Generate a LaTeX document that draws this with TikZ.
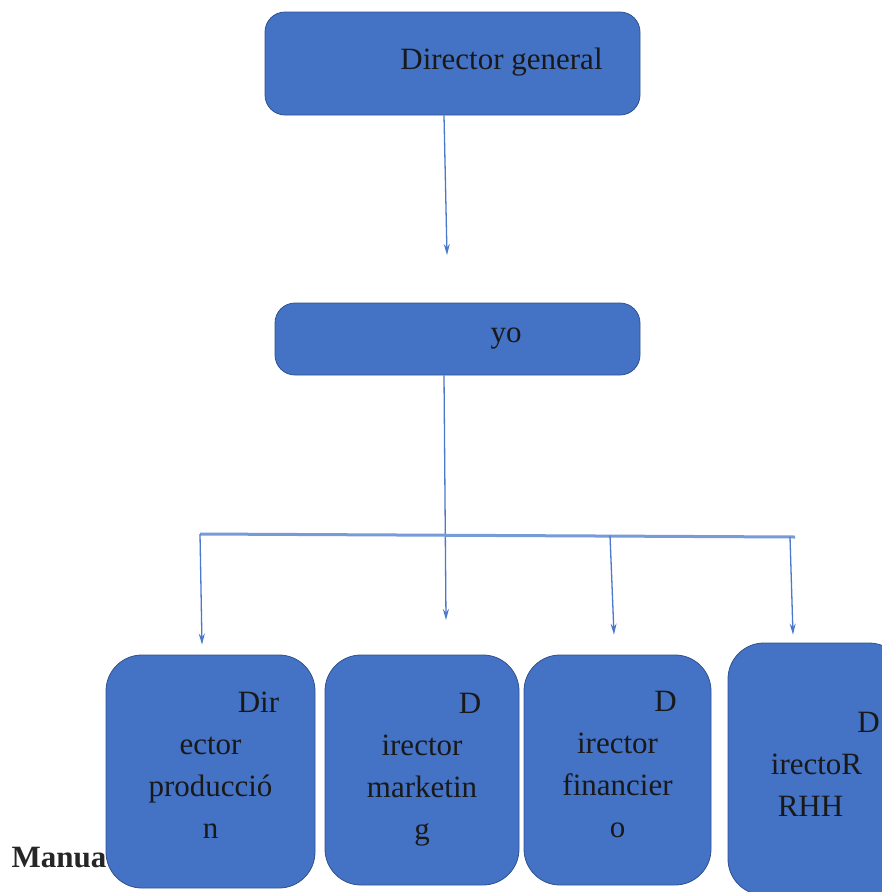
\documentclass[tikz,border=0pt]{standalone}
\usepackage{fontspec}
\setmainfont{Liberation Serif}
\usetikzlibrary{arrows.meta}
\definecolor{boxblue}{HTML}{4472C4}
\definecolor{boxline}{HTML}{2F528F}
\definecolor{lineblue}{HTML}{4A78CB}

\begin{document}
\begin{tikzpicture}[x=1pt, y=-1pt,
    box/.style={draw=boxline, line width=0.8pt, fill=boxblue, rounded corners=20pt,
        inner sep=0pt, align=center, text=black!90,
        font=\fontsize{31}{42}\selectfont},
    lowbox/.style={box, rounded corners=36pt},
    arr/.style={draw=lineblue, line width=1.3pt, -{Stealth[length=11pt, width=6pt]}},
    bar/.style={draw=lineblue!75, line width=3pt}
    ]
    \useasboundingbox (0,0) rectangle (882,892);
    \clip (0,0) rectangle (882,892);

    \node[box, minimum width=375pt, minimum height=103pt] (dg) at (452.5,63.5)
        {\raisebox{9pt}{\hspace*{98pt}Director general}};
    \node[box, minimum width=365pt, minimum height=72pt] (yo) at (457.5,339)
        {\raisebox{6pt}{\hspace*{97pt}yo}};

    \node[anchor=west, font=\bfseries\fontsize{31}{36}\selectfont, text=black!85] (man) at (8,858) {Manua};

    \node[lowbox, minimum width=209pt, minimum height=233pt, text depth=12pt] (prod) at (210.5,771.5)
        {\hspace*{96pt}Dir\\ector\\producció\\n};
    \node[lowbox, minimum width=194pt, minimum height=230pt] (mkt) at (422,770)
        {\hspace*{96pt}D\\irector\\marketin\\g};
    \node[lowbox, minimum width=187pt, minimum height=230pt, text depth=12pt] (fin) at (617.5,770)
        {\hspace*{96pt}D\\irector\\financier\\o};
    \node[lowbox, minimum width=177pt, minimum height=252pt, text depth=10pt] (rrhh) at (816.5,769)
        {\hspace*{104pt}D\\irectoR\hspace*{12pt}\\RHH\hspace*{12pt}};

    \coordinate (t1) at (447,255);
    \coordinate (t2) at (446,620);
    \coordinate (b1) at (200,534);
    \coordinate (b2) at (795,537);
    \coordinate (b3) at (610,535.5);
    \coordinate (b4) at (790,537);

    \draw[arr] ([xshift=-8.5pt]dg.south) -- (t1);
    \draw[arr] ([xshift=-13.5pt]yo.south) -- (t2);
    \draw[bar] (b1) -- (b2);
    \draw[arr] (b1) -- ([xshift=-8.5pt, yshift=10pt]prod.north);
    \draw[arr] (b3) -- ([xshift=-3.5pt, yshift=20pt]fin.north);
    \draw[arr] (b4) -- ([xshift=-23.5pt, yshift=8pt]rrhh.north);
\end{tikzpicture}
\end{document}
